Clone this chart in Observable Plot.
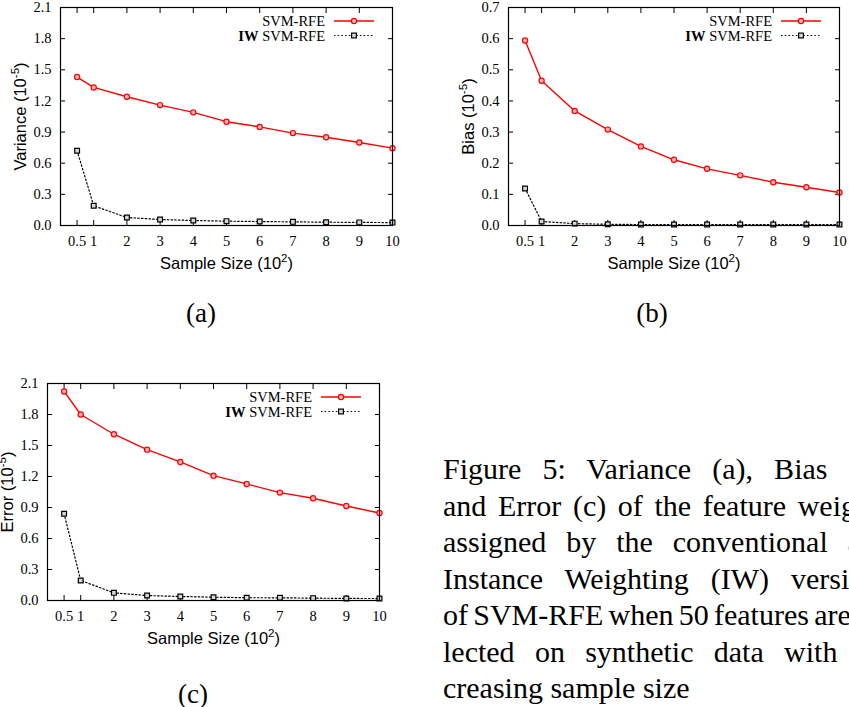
<!DOCTYPE html>
<html>
<head>
<meta charset="utf-8">
<script src="https://cdn.jsdelivr.net/npm/d3@7"></script>
<script src="https://cdn.jsdelivr.net/npm/@observablehq/plot@0.6"></script>
<style>
  html, body { margin: 0; padding: 0; width: 849px; height: 707px; overflow: hidden; background: #fff; }
  .panel { position: absolute; }
  .sub { position: absolute; font-family: "Liberation Serif", "Times New Roman", serif; font-size: 27px; line-height: 1; transform: translate(-50%, -50%); color: #000; }
  #caption { position: absolute; left: 443px; top: 451px; font-family: "Liberation Serif", "Times New Roman", serif; font-size: 30px; line-height: 36.5px; color: #000; }
  #caption div { white-space: nowrap; }
  #caption span { display: inline-block; white-space: nowrap; }
</style>
</head>
<body>
<div id="pa" class="panel" style="left:0px;top:0px"></div>
<div id="pb" class="panel" style="left:420px;top:0px"></div>
<div id="pc" class="panel" style="left:0px;top:376px"></div>
<div class="sub" style="left:201px;top:313px">(a)</div>
<div class="sub" style="left:652px;top:313px">(b)</div>
<div class="sub" style="left:193px;top:694px">(c)</div>
<div id="caption"></div>
<script>
// Sample sizes (in hundreds) and their tick labels
const sampleSizes = [0.5, 1, 2, 3, 4, 5, 6, 7, 8, 9, 10];
const sampleLabels = ["0.5", "1", "2", "3", "4", "5", "6", "7", "8", "9", "10"];

// Variance of the feature weights (x 1e-5)
const varianceSVM = [1.43, 1.33, 1.24, 1.16, 1.09, 1.00, 0.95, 0.89, 0.85, 0.80, 0.745];
const varianceIW  = [0.72, 0.19, 0.077, 0.058, 0.048, 0.042, 0.038, 0.035, 0.032, 0.030, 0.028];

// Bias of the feature weights (x 1e-5)
const biasSVM = [0.594, 0.465, 0.368, 0.308, 0.254, 0.211, 0.182, 0.161, 0.139, 0.123, 0.106];
const biasIW  = [0.119, 0.013, 0.006, 0.004, 0.003, 0.003, 0.003, 0.003, 0.003, 0.003, 0.003];

// Error of the feature weights (x 1e-5)
const errorSVM = [2.023, 1.80, 1.609, 1.46, 1.341, 1.208, 1.128, 1.044, 0.989, 0.914, 0.847];
const errorIW  = [0.84, 0.194, 0.074, 0.048, 0.039, 0.032, 0.027, 0.026, 0.023, 0.020, 0.019];

// y-axis ticks
const ticksWide = [0, 0.3, 0.6, 0.9, 1.2, 1.5, 1.8, 2.1];
const ticksBias = [0, 0.1, 0.2, 0.3, 0.4, 0.5, 0.6, 0.7];

const seriesNames = ["SVM-RFE", "IW SVM-RFE"];

// axis titles: [text, exponent, closing]
const xTitle = ["Sample Size (10", "2", ")"];
const varianceTitle = ["Variance (10", "-5", ")"];
const biasTitle = ["Bias (10", "-5", ")"];
const errorTitle = ["Error (10", "-5", ")"];

const captionLines = [
  "Figure 5: Variance (a), Bias (b),",
  "and Error (c) of the feature weights",
  "assigned by the conventional and",
  "Instance Weighting (IW) versions",
  "of SVM-RFE when 50 features are se-",
  "lected on synthetic data with in-",
  "creasing sample size"
];

const serif = "'Liberation Serif', 'Times New Roman', serif";
const sans = "'Liberation Sans', Arial, sans-serif";
const RED = "#ff0000";
const TITLE_SIZE = 16.5;

function rows(values) {
  return sampleSizes.map((x, i) => ({x, y: values[i]}));
}

// turn a plain "base^exp" title into tspans with a raised exponent
function superscript(chart, [base, exp, tail]) {
  d3.select(chart).selectAll("text")
    .filter(function() { return this.textContent === base + exp + tail; })
    .each(function() {
      const t = d3.select(this).text(null);
      const rise = TITLE_SIZE * 0.42;
      t.append("tspan").text(base);
      t.append("tspan").attr("dy", -rise).attr("font-size", TITLE_SIZE * 0.7).text(exp);
      t.append("tspan").attr("dy", rise).text(tail);
    });
}

function panel({svm, iw, yTicks, yMax, title, width, height, ml, mr, mt, mb}) {
  const red = rows(svm), black = rows(iw);
  const chart = Plot.plot({
    width, height,
    marginLeft: ml, marginRight: mr, marginTop: mt, marginBottom: mb,
    style: {fontFamily: serif, fontSize: "14.5px", background: "transparent", overflow: "visible", maxWidth: "none", color: "#000"},
    x: {domain: [0, 10], label: null},
    y: {domain: [0, yMax], label: null},
    marks: [
      // inward tick marks on all four sides
      Plot.axisY(yTicks, {anchor: "left", tickSize: 5, dx: 5, fill: "none", label: null}),
      Plot.axisY(yTicks, {anchor: "right", tickSize: 5, dx: -5, fill: "none", label: null}),
      Plot.axisX(sampleSizes, {anchor: "bottom", tickSize: 5, dy: -5, fill: "none", label: null}),
      Plot.axisX(sampleSizes, {anchor: "top", tickSize: 5, dy: 5, fill: "none", label: null}),
      // tick labels
      Plot.axisY(yTicks, {anchor: "left", tickSize: 0, tickPadding: 9, tickFormat: d3.format(".1f"), label: null, fontSize: 14.5}),
      Plot.axisX(sampleSizes, {anchor: "bottom", tickSize: 0, tickPadding: 10,
        tickFormat: d => sampleLabels[sampleSizes.indexOf(d)], label: null, fontSize: 14.5}),
      // axis titles
      Plot.text([title.join("")], {text: d => d, frameAnchor: "left", dx: -40, rotate: -90,
        textAnchor: "middle", lineAnchor: "middle", fontFamily: sans, fontSize: TITLE_SIZE}),
      Plot.text([xTitle.join("")], {text: d => d, frameAnchor: "bottom", dy: 38.5,
        textAnchor: "middle", lineAnchor: "middle", fontFamily: sans, fontSize: TITLE_SIZE}),
      // IW SVM-RFE series
      Plot.line(black, {x: "x", y: "y", stroke: "#000", strokeWidth: 1.2, strokeDasharray: "1.5,2.2"}),
      Plot.dot(black, {x: "x", y: "y", symbol: "square", r: 2.7, stroke: "#000", strokeWidth: 1.2, fill: "#d8d8d8"}),
      // SVM-RFE series
      Plot.line(red, {x: "x", y: "y", stroke: RED, strokeWidth: 1.4}),
      Plot.dot(red, {x: "x", y: "y", r: 2.6, stroke: RED, strokeWidth: 1.2, fill: "#ffb4b4"}),
      Plot.frame({stroke: "#000", strokeWidth: 1.2})
    ]
  });

  superscript(chart, title);
  superscript(chart, xTitle);

  // key in the upper-right corner of the frame
  const [, xr] = chart.scale("x").range;
  const yr = chart.scale("y").range;
  const yt = Math.min(...yr);
  const g = d3.select(chart).append("g").attr("font-family", serif).attr("font-size", 14.5);
  seriesNames.forEach((name, k) => {
    const cy = yt + 14 + 14.5 * k;
    const t = g.append("text").attr("x", xr - 67).attr("y", cy).attr("dy", "0.35em").attr("text-anchor", "end").attr("fill", "#000");
    if (k === 1) {
      t.append("tspan").attr("font-weight", "bold").text("IW");
      t.append("tspan").text(" SVM-RFE");
    } else {
      t.text(name);
    }
    const line = g.append("line").attr("x1", xr - 58).attr("x2", xr - 18).attr("y1", cy).attr("y2", cy);
    if (k === 0) {
      line.attr("stroke", RED).attr("stroke-width", 1.4);
      g.append("circle").attr("cx", xr - 38).attr("cy", cy).attr("r", 2.6).attr("stroke", RED).attr("stroke-width", 1.2).attr("fill", "#ffb4b4");
    } else {
      line.attr("stroke", "#000").attr("stroke-width", 1.2).attr("stroke-dasharray", "1.5,2.2");
      g.append("rect").attr("x", xr - 40.4).attr("y", cy - 2.4).attr("width", 4.8).attr("height", 4.8).attr("stroke", "#000").attr("stroke-width", 1.2).attr("fill", "#d8d8d8");
    }
  });
  return chart;
}

document.getElementById("pa").append(panel({
  svm: varianceSVM, iw: varianceIW, yTicks: ticksWide, yMax: 2.1, title: varianceTitle,
  width: 420, height: 290, ml: 60, mr: 28, mt: 7, mb: 65
}));
document.getElementById("pb").append(panel({
  svm: biasSVM, iw: biasIW, yTicks: ticksBias, yMax: 0.7, title: biasTitle,
  width: 429, height: 290, ml: 88, mr: 10, mt: 7, mb: 65
}));
document.getElementById("pc").append(panel({
  svm: errorSVM, iw: errorIW, yTicks: ticksWide, yMax: 2.1, title: errorTitle,
  width: 420, height: 290, ml: 47, mr: 41, mt: 7, mb: 66
}));

// justified caption column
const captionWidth = 448;
const cap = document.getElementById("caption");
captionLines.forEach((text, i) => {
  const div = document.createElement("div");
  const span = document.createElement("span");
  span.textContent = text;
  div.append(span);
  cap.append(div);
  if (i < captionLines.length - 1) {
    const natural = span.getBoundingClientRect().width;
    const gaps = (text.match(/ /g) || []).length;
    if (gaps) span.style.wordSpacing = ((captionWidth - natural) / gaps) + "px";
  }
});
</script>
</body>
</html>
